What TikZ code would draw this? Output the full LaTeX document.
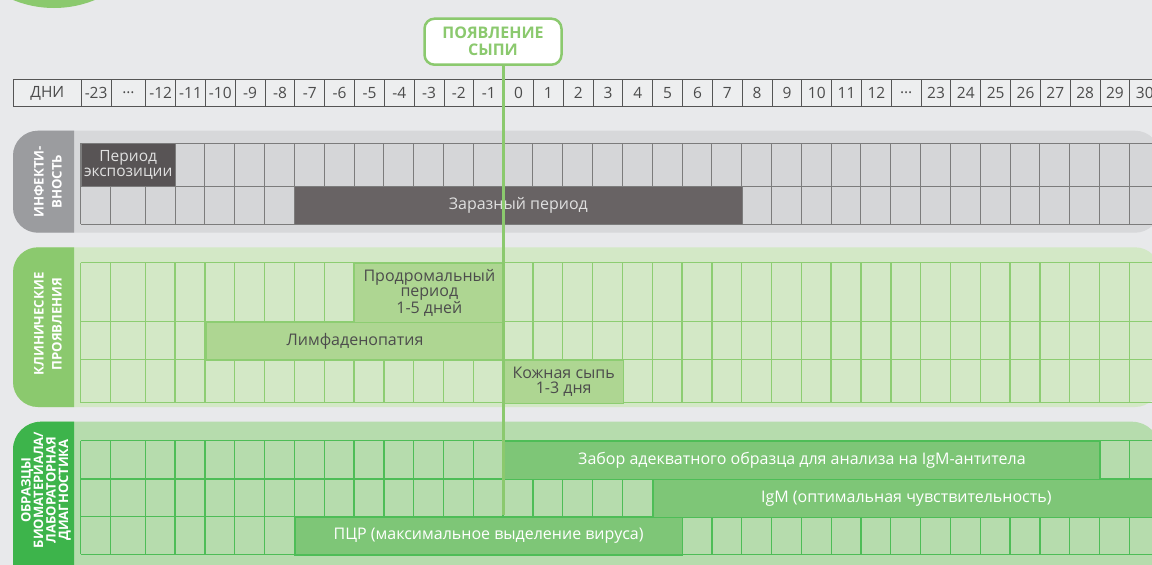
\documentclass[tikz,border=0pt]{standalone}
\usepackage{fontspec}
\setmainfont{Open Sans}
\definecolor{fond}{HTML}{E8E9EB}
\definecolor{entete}{HTML}{EDEEEF}
\definecolor{trait}{HTML}{555555}
\definecolor{gristab}{HTML}{9B9C9F}
\definecolor{grisfond}{HTML}{D7D8DA}
\definecolor{griscase}{HTML}{D5D6D8}
\definecolor{grisligne}{HTML}{7C7C7C}
\definecolor{grisfonce}{HTML}{585455}
\definecolor{grisbarre}{HTML}{686364}
\definecolor{vertclair}{HTML}{D3E8C6}
\definecolor{verttab}{HTML}{8BC96E}
\definecolor{vertligne}{HTML}{8DCD72}
\definecolor{vertbarre}{HTML}{AED692}
\definecolor{vertfond}{HTML}{B6DCAD}
\definecolor{vertfort}{HTML}{3DB44B}
\definecolor{vertfil}{HTML}{4EBD57}
\definecolor{vertbande}{HTML}{7EC677}
\tikzset{
  jour/.style={draw=trait, fill=entete, line width=1pt, anchor=north west,
    inner sep=0pt, minimum height=27pt, text=trait!90!black,
    font=\fontsize{15.5}{17}\selectfont},
  barre/.style={anchor=north west, inner sep=0pt, align=center,
    font=\fontsize{16}{15}\selectfont},
  onglet/.style={rotate=90, align=center, text=white, inner sep=0pt},
  repere/.style={draw=verttab, fill=white, line width=2.5pt, rounded corners=10pt,
    minimum width=137pt, minimum height=46pt, align=center, text=verttab,
    font=\bfseries\fontsize{16}{17}\selectfont},
}
\newcommand{\traitsjours}[2]{%
  \foreach \xb in {80.7,110.5} \draw (\xb,#1) -- (\xb,#2);
  \foreach \j in {0,...,34} \draw ({145.3+29.82*\j},#1) -- ({145.3+29.82*\j},#2);}
\begin{document}
\begin{tikzpicture}[x=1pt,y=-1pt]
%					Cadre et fond :
					\useasboundingbox[fill=fond] (0,0) rectangle (1152,565);
					\clip (0,0) rectangle (1152,565);
					\fill[verttab] (54,-100) circle[radius=108pt];
%					Tracé de l'en-tête des jours :
					\node[jour, minimum width=67.7pt] (dni) at (13,79) {ДНИ};
					\foreach \lab [count=\k from 0] in {-23,{…},-12,-11,-10,-9,-8,-7,-6,-5,-4,-3,-2,-1,0,1,2,3,4,5,6,7,8,9,10,11,12,{…},23,24,25,26,27,28,29,30} {
						\pgfmathsetmacro{\xl}{\k==0 ? 80.7 : (\k==1 ? 110.5 : 145.3+(\k-2)*29.82)}
						\pgfmathsetmacro{\cw}{\k==1 ? 34.8 : 29.82}
						\node[jour, minimum width=\cw pt] (h\k) at (\xl,79) {\lab};
					}
%					Bloc infectivité :
					\fill[grisfond, rounded corners=25pt] (13,130.7) rectangle (1160,232.7);
					\begin{scope}
						\clip (13,130.7) rectangle (74,232.7);
						\fill[gristab, rounded corners=25pt] (13,130.7) rectangle (130,232.7);
					\end{scope}
					\fill[griscase] (80.7,143.3) rectangle (1160,224);
					\begin{scope}[color=grisligne, line width=1pt]
						\foreach \y in {143.3,186,224} \draw (80.7,\y) -- (1160,\y);
						\traitsjours{143.3}{224}
					\end{scope}
					\node[barre, draw=grisligne, fill=grisfonce, text=white!88!black, minimum width=94.6pt, minimum height=42.7pt, font=\fontsize{15.5}{15}\selectfont] (expo) at (80.7,143.3) {Период\\экспозиции};
					\node[barre, draw=grisligne, fill=grisbarre, text=white!88!black, minimum width=447.7pt, minimum height=38pt] (zaraz) at (294.3,186) {Заразный период};
					\node[onglet, font=\bfseries\fontsize{13.2}{18}\selectfont] (inf) at (48,181.7) {ИНФЕКТИ-\\ВНОСТЬ};
%					Bloc clinique :
					\fill[vertclair, rounded corners=25pt] (13,247.3) rectangle (1160,407);
					\begin{scope}
						\clip (13,247.3) rectangle (74,407);
						\fill[verttab, rounded corners=25pt] (13,247.3) rectangle (130,407);
					\end{scope}
					\begin{scope}[color=vertligne, line width=1.4pt]
						\foreach \y in {262.7,321.7,359.3,402.7} \draw (80.7,\y) -- (1160,\y);
						\traitsjours{262.7}{402.7}
					\end{scope}
					\node[barre, draw=vertligne, line width=1.4pt, fill=vertbarre, text=black!70, minimum width=149.3pt, minimum height=59pt] (prodrom) at (354,262.7) {Продромальный\\период\\1-5 дней};
					\node[barre, draw=vertligne, line width=1.4pt, fill=vertbarre, text=black!70, minimum width=298pt, minimum height=37.6pt] (lymph) at (205.3,321.7) {Лимфаденопатия};
					\node[barre, draw=vertligne, line width=1.4pt, fill=vertbarre, text=black!70, minimum width=119.4pt, minimum height=43.4pt] (sypi) at (503.3,359.3) {Кожная сыпь\\1-3 дня};
					\node[onglet, font=\bfseries\fontsize{13.2}{18}\selectfont] (clin) at (48,324) {КЛИНИЧЕСКИЕ\\ПРОЯВЛЕНИЯ};
%					Bloc laboratoire :
					\fill[vertfond, rounded corners=28pt] (13,421.7) rectangle (1160,610);
					\begin{scope}
						\clip (13,421.7) rectangle (74,610);
						\fill[vertfort, rounded corners=28pt] (13,421.7) rectangle (130,610);
					\end{scope}
					\begin{scope}[color=vertfil, line width=1.3pt]
						\foreach \y in {440.7,479,516.7,554.3} \draw (80.7,\y) -- (1160,\y);
						\traitsjours{440.7}{554.3}
					\end{scope}
					\node[barre, draw=vertfil, line width=1.3pt, fill=vertbande, text=white, minimum width=596pt, minimum height=38.3pt] (zabor) at (503.3,440.7) {Забор адекватного образца для анализа на IgM-антитела};
					\node[barre, draw=vertfil, line width=1.3pt, fill=vertbande, text=white, minimum width=506.7pt, minimum height=37.7pt] (igm) at (652.3,479) {IgM (оптимальная чувствительность)};
					\node[onglet, font=\bfseries\fontsize{13}{12.5}\selectfont] (obr) at (46,490) {ОБРАЗЦЫ\\БИОМАТЕРИАЛА/\\ЛАБОРАТОРНАЯ\\ДИАГНОСТИКА};
%					Repère d'apparition de l'éruption :
					\node[repere] (rash) at (493,41.7) {ПОЯВЛЕНИЕ\\СЫПИ};
					\coordinate (rashend) at (503.3,515);
					\draw[verttab, line width=3pt] (rashend |- rash.south) -- (rashend);
					\node[barre, draw=vertfil, line width=1.3pt, fill=vertbande, text=white, minimum width=387.4pt, minimum height=37.6pt] (pcr) at (294.3,516.7) {ПЦР (максимальное выделение вируса)};
				\end{tikzpicture}
\end{document}
